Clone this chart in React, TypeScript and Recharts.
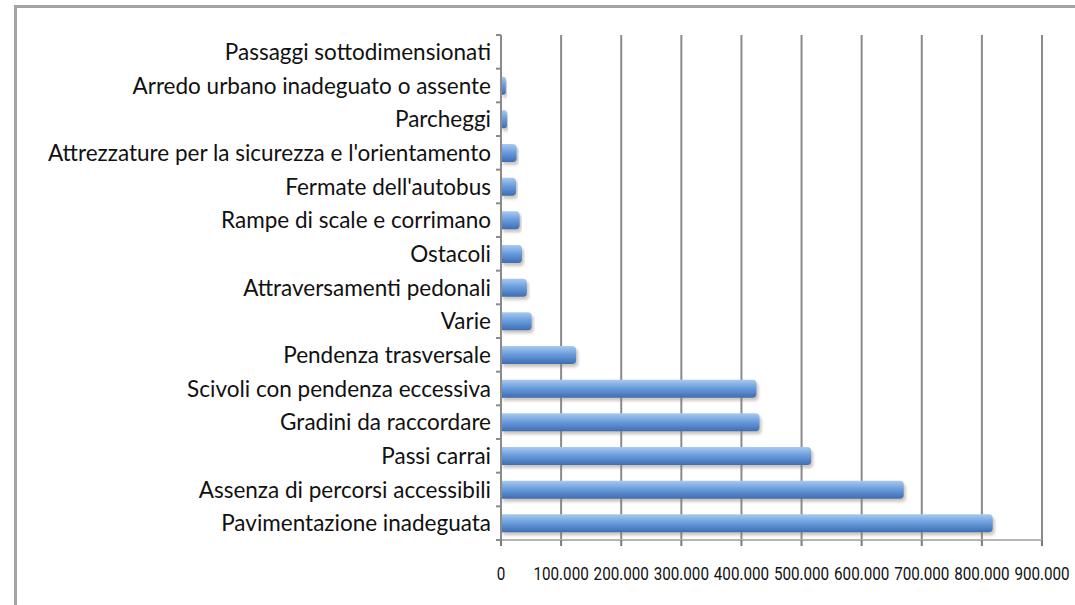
import React from 'react';
import { BarChart, Bar, XAxis, YAxis, CartesianGrid } from 'recharts';

// categories from top to bottom, as in the picture
const categories = [
  'Passaggi sottodimensionati',
  'Arredo urbano inadeguato o assente',
  'Parcheggi',
  "Attrezzature per la sicurezza e l'orientamento",
  "Fermate dell'autobus",
  'Rampe di scale e corrimano',
  'Ostacoli',
  'Attraversamenti pedonali',
  'Varie',
  'Pendenza trasversale',
  'Scivoli con pendenza eccessiva',
  'Gradini da raccordare',
  'Passi carrai',
  'Assenza di percorsi accessibili',
  'Pavimentazione inadeguata'
];

const values = [
  1000, 8000, 10000, 26000, 25000, 31000, 35000, 43000, 51000,
  125000, 425000, 430000, 516000, 670000, 818000
];

const xTicks = [0, 100000, 200000, 300000, 400000, 500000, 600000, 700000, 800000, 900000];

const data = categories.map((name, i) => ({ name, value: values[i] }));

const WIDTH = 1075;
const HEIGHT = 605;
const MARGIN = { top: 35, right: 33, bottom: 0, left: 0 };
const Y_AXIS_WIDTH = 501;
const X_AXIS_HEIGHT = 65;
const BAND = (HEIGHT - MARGIN.top - MARGIN.bottom - X_AXIS_HEIGHT) / categories.length;

const formatThousands = (v: number) =>
  String(v).replace(/\B(?=(\d{3})+(?!\d))/g, '.');

const CategoryTick = (props: any) => {
  const { x, y, payload, index } = props;
  return (
    <g>
      <line x1={x - 5} x2={x} y1={y - BAND / 2} y2={y - BAND / 2} stroke="#8a8a8a" strokeWidth={2} />
      {index === categories.length - 1 && (
        <line x1={x - 5} x2={x} y1={y + BAND / 2} y2={y + BAND / 2} stroke="#8a8a8a" strokeWidth={2} />
      )}
      <text
        x={x - 10}
        y={y}
        dy="0.36em"
        textAnchor="end"
        fontFamily="Lato, 'Open Sans', sans-serif"
        fontSize={22.5}
        fill="#111"
      >
        {payload.value}
      </text>
    </g>
  );
};

// narrow numeric labels, squeezed horizontally like the original condensed font
const ValueTick = (props: any) => {
  const { x, y, payload } = props;
  return (
    <g transform={`translate(${x},${y}) scale(0.8,1)`}>
      <text
        x={0}
        y={0}
        dy="0.71em"
        textAnchor="middle"
        fontFamily="Roboto, 'Liberation Sans', sans-serif"
        fontSize={19}
        fill="#111"
      >
        {formatThousands(payload.value)}
      </text>
    </g>
  );
};

export default function App() {
  return (
    <div
      style={{
        position: 'absolute',
        left: 0,
        top: 0,
        width: WIDTH,
        height: HEIGHT,
        background: '#fff',
        overflow: 'hidden'
      }}
    >
      <div
        style={{
          position: 'absolute',
          left: 14,
          top: 5,
          width: 1200,
          height: 800,
          border: '3px solid #a3a3a3',
          boxSizing: 'border-box'
        }}
      />
      <div style={{ position: 'absolute', left: 0, top: 0 }}>
        <BarChart width={WIDTH} height={HEIGHT} data={data} layout="vertical" margin={MARGIN}>
          <defs>
            <linearGradient id="barGrad" x1="0" y1="0" x2="0" y2="1">
              <stop offset="0%" stopColor="#a9c9f0" />
              <stop offset="45%" stopColor="#6b9edd" />
              <stop offset="100%" stopColor="#3c6db3" />
            </linearGradient>
            <filter id="barShadow" x="-5%" y="-40%" width="115%" height="200%">
              <feDropShadow dx="2" dy="3" stdDeviation="1.8" floodColor="#8a7a6a" floodOpacity="0.45" />
            </filter>
          </defs>
          <CartesianGrid horizontal={false} stroke="#8a8a8a" strokeWidth={2} />
          <XAxis
            type="number"
            domain={[0, 900000]}
            ticks={xTicks}
            height={X_AXIS_HEIGHT}
            axisLine={{ stroke: '#b5b5b5', strokeWidth: 2 }}
            tickLine={{ stroke: '#7a7a7a', strokeWidth: 2 }}
            tickSize={6}
            tickMargin={21}
            tick={<ValueTick />}
            interval={0}
          />
          <YAxis
            type="category"
            dataKey="name"
            width={Y_AXIS_WIDTH}
            axisLine={{ stroke: '#8a8a8a', strokeWidth: 2 }}
            tickLine={false}
            tickSize={0}
            tickMargin={0}
            tick={<CategoryTick />}
            interval={0}
          />
          <Bar
            dataKey="value"
            fill="url(#barGrad)"
            barSize={18}
            radius={[0, 4, 4, 0]}
            filter="url(#barShadow)"
            isAnimationActive={false}
          />
        </BarChart>
      </div>
    </div>
  );
}
